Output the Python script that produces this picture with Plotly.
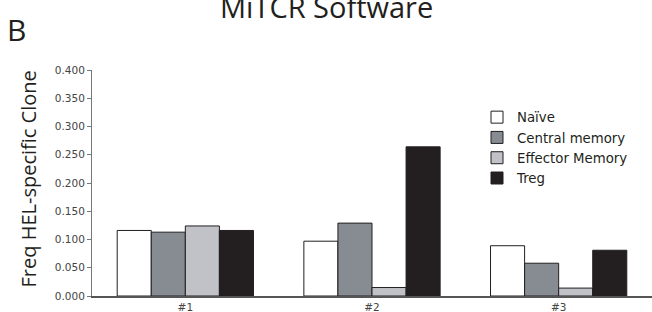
import plotly.graph_objects as go

categories = ["#1", "#2", "#3"]
series_names = ["Naïve", "Central memory", "Effector Memory", "Treg"]
naive = [0.116, 0.097, 0.089]
central_memory = [0.113, 0.129, 0.058]
effector_memory = [0.124, 0.015, 0.014]
treg = [0.116, 0.264, 0.081]
series_values = [naive, central_memory, effector_memory, treg]
colors = ["#ffffff", "#878c92", "#c0c2c8", "#231f20"]
y_tick_values = [0.0, 0.05, 0.1, 0.15, 0.2, 0.25, 0.3, 0.35, 0.4]
y_tick_labels = ["0.000", "0.050", "0.100", "0.150", "0.200", "0.250", "0.300", "0.350", "0.400"]

W, H = 652, 312
ML, MR, MT, MB = 92, 0, 70, 16
PW, PH = W - ML - MR, H - MT - MB

def px_x(p):
    return (p - ML) / PW

def px_y(p):
    return (H - MB - p) / PH

fig = go.Figure()
for name, vals, col in zip(series_names, series_values, colors):
    fig.add_trace(go.Bar(
        x=categories, y=vals, name=name,
        marker=dict(color=col, line=dict(color="#231f20", width=1)),
    ))

fig.update_layout(
    width=W, height=H,
    margin=dict(l=ML, r=MR, t=MT, b=MB, autoexpand=False),
    paper_bgcolor="white", plot_bgcolor="white",
    barmode="group", bargap=0.27, bargroupgap=0,
    showlegend=True,
    legend=dict(
        x=px_x(477), y=px_y(102), xanchor="left", yanchor="top",
        font=dict(family="DejaVu Sans, sans-serif", size=13.3, color="#231f20"),
        bgcolor="rgba(0,0,0,0)", borderwidth=0, tracegroupgap=0,
    ),
    xaxis=dict(
        range=[-0.5, 2.5], showgrid=False, zeroline=False,
        showline=True, linecolor="#555555", linewidth=2,
        ticks="", automargin=False,
        tickfont=dict(family="DejaVu Sans, sans-serif", size=10.5, color="#444444"),
    ),
    yaxis=dict(
        range=[0, 0.4], tickvals=y_tick_values, ticktext=y_tick_labels,
        showgrid=False, zeroline=False,
        showline=True, linecolor="#777777", linewidth=1,
        ticks="outside", ticklen=4, tickcolor="#777777", tickwidth=1,
        automargin=False,
        tickfont=dict(family="DejaVu Sans, sans-serif", size=10.5, color="#444444"),
    ),
    annotations=[
        dict(text="MiTCR Software", xref="paper", yref="paper",
             x=px_x(326), y=px_y(28), xanchor="center", yanchor="bottom",
             showarrow=False, font=dict(family="Open Sans, sans-serif", size=29, color="#231f20")),
        dict(text="B", xref="paper", yref="paper",
             x=px_x(5), y=px_y(52), xanchor="left", yanchor="bottom",
             showarrow=False, font=dict(family="Open Sans, sans-serif", size=30, color="#231f20")),
        dict(text="Freq HEL-specific Clone", xref="paper", yref="paper",
             x=px_x(28), y=px_y(179.5), xanchor="center", yanchor="middle",
             textangle=-90, showarrow=False,
             font=dict(family="Open Sans, sans-serif", size=20, color="#231f20")),
    ],
)

fig.write_html("out.html", config={"displayModeBar": False},
               post_script="document.body.style.margin='0';document.body.style.overflow='hidden';")
